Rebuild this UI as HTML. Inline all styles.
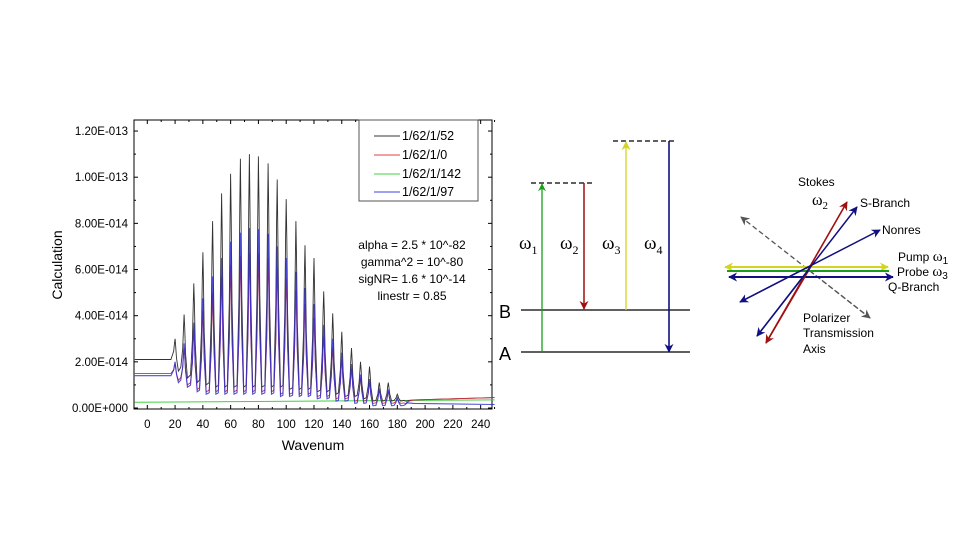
<!DOCTYPE html>
<html><head><meta charset="utf-8"><style>
body{margin:0;background:#fff;}
svg{display:block;font-family:"Liberation Sans",sans-serif;}
</style></head><body>
<svg id="s" width="960" height="540" viewBox="0 0 960 540">
<defs>
<marker id="mg" viewBox="0 0 10 10" refX="9" refY="5" markerWidth="8" markerHeight="8" markerUnits="userSpaceOnUse" orient="auto"><path d="M0,0L10,5L0,10L3,5z" fill="#1a9e1a"/></marker>
<marker id="mr" viewBox="0 0 10 10" refX="9" refY="5" markerWidth="9" markerHeight="9" markerUnits="userSpaceOnUse" orient="auto"><path d="M0,0L10,5L0,10L3,5z" fill="#a01010"/></marker>
<marker id="my" viewBox="0 0 10 10" refX="9" refY="5" markerWidth="9" markerHeight="9" markerUnits="userSpaceOnUse" orient="auto"><path d="M0,0L10,5L0,10L3,5z" fill="#d4d420"/></marker>
<marker id="mb" viewBox="0 0 10 10" refX="9" refY="5" markerWidth="9" markerHeight="9" markerUnits="userSpaceOnUse" orient="auto"><path d="M0,0L10,5L0,10L3,5z" fill="#101080"/></marker>
<marker id="mk" viewBox="0 0 10 10" refX="9" refY="5" markerWidth="9" markerHeight="9" markerUnits="userSpaceOnUse" orient="auto"><path d="M0,0L10,5L0,10L3,5z" fill="#555"/></marker>
</defs>
<g id="chart">
<rect x="134" y="120" width="358" height="289" fill="none" stroke="#000" stroke-width="1"/>
<g id="ticks"></g>
<g id="series"></g>
<text x="62" y="265" font-size="14" text-anchor="middle" transform="rotate(-90 62 265)">Calculation</text>
<text x="313" y="450" font-size="14" text-anchor="middle">Wavenum</text>
<g>
<rect x="359" y="120" width="119" height="81" fill="#fff" stroke="#555"/>
<line x1="374" y1="136" x2="400" y2="136" stroke="#333"/>
<text x="402" y="140" font-size="12.5">1/62/1/52</text>
<line x1="374" y1="155" x2="400" y2="155" stroke="#e04040"/>
<text x="402" y="159" font-size="12.5">1/62/1/0</text>
<line x1="374" y1="174" x2="400" y2="174" stroke="#40d040"/>
<text x="402" y="178" font-size="12.5">1/62/1/142</text>
<line x1="374" y1="192" x2="400" y2="192" stroke="#4040e0"/>
<text x="402" y="196" font-size="12.5">1/62/1/97</text>
</g>
<g font-size="12" text-anchor="middle">
<text x="412" y="249">alpha = 2.5 * 10^-82</text>
<text x="412" y="266">gamma^2 = 10^-80</text>
<text x="412" y="283">sigNR= 1.6 * 10^-14</text>
<text x="412" y="300">linestr = 0.85</text>
</g>
</g>

<g>
<line x1="521" y1="310" x2="690" y2="310" stroke="#000" stroke-width="1.3"/>
<line x1="521" y1="352" x2="690" y2="352" stroke="#000" stroke-width="1.3"/>
<text x="499" y="318" font-size="18">B</text>
<text x="499" y="360" font-size="18">A</text>
<line x1="531" y1="183" x2="595" y2="183" stroke="#000" stroke-width="1.3" stroke-dasharray="5,3"/>
<line x1="613" y1="141" x2="677" y2="141" stroke="#000" stroke-width="1.3" stroke-dasharray="5,3"/>
<line x1="542" y1="352" x2="542" y2="184" stroke="#1a9e1a" stroke-width="1.3" marker-end="url(#mg)"/>
<line x1="584" y1="183" x2="584" y2="309" stroke="#a01010" stroke-width="1.5" marker-end="url(#mr)"/>
<line x1="626" y1="310" x2="626" y2="142" stroke="#d4d420" stroke-width="1.3" marker-end="url(#my)"/>
<line x1="669" y1="141" x2="669" y2="352" stroke="#101080" stroke-width="1.6" marker-end="url(#mb)"/>
<g font-family="Liberation Serif,serif" font-size="19">
<text x="519" y="249">ω<tspan font-size="12" dy="5">1</tspan></text>
<text x="560" y="249">ω<tspan font-size="12" dy="5">2</tspan></text>
<text x="602" y="249">ω<tspan font-size="12" dy="5">3</tspan></text>
<text x="644" y="249">ω<tspan font-size="12" dy="5">4</tspan></text>
</g>
</g>

<g>
<line x1="870" y1="318" x2="741" y2="217" stroke="#555" stroke-width="1.3" stroke-dasharray="5,3" marker-end="url(#mk)"/>
<line x1="810" y1="271" x2="870" y2="318" stroke="#555" stroke-width="1.3" stroke-dasharray="5,3" marker-end="url(#mk)"/>
<line x1="888" y1="267" x2="725" y2="267" stroke="#d4d420" stroke-width="2" marker-end="url(#my)"/>
<line x1="725" y1="267" x2="888" y2="267" stroke="#d4d420" stroke-width="2" marker-end="url(#my)"/>
<line x1="727" y1="271" x2="889" y2="271" stroke="#1a9e1a" stroke-width="2"/>
<line x1="893" y1="277" x2="729" y2="277" stroke="#101080" stroke-width="2" marker-end="url(#mb)"/>
<line x1="729" y1="277" x2="893" y2="277" stroke="#101080" stroke-width="2" marker-end="url(#mb)"/>
<line x1="766" y1="343" x2="847" y2="202" stroke="#a01010" stroke-width="1.6" marker-end="url(#mr)"/>
<line x1="810" y1="268" x2="766" y2="343" stroke="#a01010" stroke-width="1.6" marker-end="url(#mr)"/>
<line x1="757" y1="336" x2="857" y2="207" stroke="#101080" stroke-width="1.5" marker-end="url(#mb)"/>
<line x1="810" y1="268" x2="757" y2="336" stroke="#101080" stroke-width="1.5" marker-end="url(#mb)"/>
<line x1="740" y1="302" x2="880" y2="230" stroke="#101080" stroke-width="1.5" marker-end="url(#mb)"/>
<line x1="810" y1="266" x2="740" y2="302" stroke="#101080" stroke-width="1.5" marker-end="url(#mb)"/>
<g font-size="12">
<text x="798" y="186">Stokes</text>
<text x="812" y="205" font-family="Liberation Serif,serif" font-size="16">ω<tspan font-size="11" dy="4">2</tspan></text>
<text x="860" y="207">S-Branch</text>
<text x="882" y="234">Nonres</text>
<text x="898" y="261">Pump <tspan font-family="Liberation Serif,serif" font-size="15">ω</tspan><tspan font-size="10" dy="3">1</tspan></text>
<text x="897" y="276">Probe <tspan font-family="Liberation Serif,serif" font-size="15">ω</tspan><tspan font-size="10" dy="3">3</tspan></text>
<text x="888" y="291">Q-Branch</text>
<text x="803" y="322">Polarizer</text>
<text x="803" y="337">Transmission</text>
<text x="803" y="353">Axis</text>
</g>
</g>
</svg>
<script>
const xTicks=[0,20,40,60,80,100,120,140,160,180,200,220,240];
const yTicks=[0,2,4,6,8,10,12];
const yTickLabels=["0.00E+000","2.00E-014","4.00E-014","6.00E-014","8.00E-014","1.00E-013","1.20E-013"];
const peakX=[20,26.5,33.5,40,47,53.5,60,67,73.5,80,87,93.5,100,107,113.5,120,127,133.5,140,147,153.5,160,167,173.5,180,187];
const blackPeaks=[3.0,4.05,5.4,6.75,8.1,9.3,10.15,10.8,11.0,10.9,10.6,9.9,9.05,8.1,7.05,6.5,5.05,4.1,3.3,2.6,2.0,1.8,1.1,1.1,0.6,0.3];
const redPeaks=[1.9,2.6,3.4,4.2,5.0,5.7,6.2,6.6,6.7,6.7,6.5,6.1,5.6,5.1,4.5,3.9,3.1,2.6,2.1,1.7,1.3,1.1,0.75,0.7,0.4,0.2];
const bluePeaks=[2.0,2.8,3.7,4.75,5.7,6.5,7.2,7.6,7.8,7.75,7.55,7.0,6.5,5.9,5.2,4.5,3.6,3.0,2.4,1.9,1.45,1.25,0.85,0.8,0.45,0.25];
const blackTroughs=[1.6,1.3,1.1,1.0,0.9,0.9,0.9,0.9,0.9,0.9,0.9,0.9,0.8,0.8,0.8,0.7,0.7,0.6,0.5,0.5,0.4,0.3,0.3,0.3,0.3];
const redTroughs=[1.2,1.0,0.8,0.7,0.7,0.7,0.7,0.7,0.7,0.7,0.7,0.6,0.6,0.6,0.6,0.5,0.5,0.4,0.4,0.3,0.3,0.2,0.2,0.2,0.2];
const blueTroughs=[1.1,0.9,0.7,0.6,0.6,0.6,0.6,0.6,0.6,0.6,0.6,0.5,0.5,0.5,0.5,0.4,0.4,0.3,0.3,0.2,0.2,0.1,0.1,0.1,0.1];
const blackBase=[2.1,2.1,0.35,0.45];
const redBase=[1.5,1.5,0.35,0.45];
const blueBase=[1.4,1.4,0.2,0.15];
const greenBase=[0.25,0.35];
const NS="http://www.w3.org/2000/svg";
const X=v=>147.3+(v)*1.389;
const Y=v=>408-v*23.08;
const tk=document.getElementById('ticks'), sr=document.getElementById('series');
function mk(t,a,p){const e=document.createElementNS(NS,t);for(const k in a)e.setAttribute(k,a[k]);p.appendChild(e);return e;}
xTicks.forEach(v=>{
 [[409,405],[120,124]].forEach(([a,b])=>{
 const l=mk('line',{x1:X(v),x2:X(v),y1:a,y2:b,stroke:'#000'},tk);
 
 
 const m=mk('line',{x1:X(v+10),x2:X(v+10),y1:a,y2:a+(b-a)/2,stroke:'#000'},tk);
 
 
 });
 const t=mk('text',{x:X(v),y:428,'font-size':11.5,'text-anchor':'middle'},tk);t.textContent=v;
 
 
});
yTicks.forEach((v,i)=>{
 [[134,138],[492,488]].forEach(([a,b])=>{
 const l=mk('line',{x1:a,x2:b,y1:Y(v),y2:Y(v),stroke:'#000'},tk);
 
 
 if(v<12){const m=mk('line',{x1:a,x2:a+(b-a)/2,y1:Y(v+1),y2:Y(v+1),stroke:'#000'},tk);
 
 }
 });
 const t=mk('text',{x:128,y:Y(v)+4,'font-size':11.5,'text-anchor':'end'},tk);t.textContent=yTickLabels[i];
 
 
});
function build(base,peaks,troughs){
 const pts=[[-9,base[0]],[17,base[1]]];
 for(let i=0;i<peakX.length;i++){
  const lo=i>0?troughs[i-1]:base[1], hi=i<troughs.length?troughs[i]:base[2];
  pts.push([peakX[i]-1.0,lo+(peaks[i]-lo)*0.4]);
  pts.push([peakX[i]-0.4,lo+(peaks[i]-lo)*0.8]);
  pts.push([peakX[i],peaks[i]]);
  pts.push([peakX[i]+0.4,hi+(peaks[i]-hi)*0.8]);
  pts.push([peakX[i]+1.0,hi+(peaks[i]-hi)*0.4]);
  if(i<troughs.length){pts.push([peakX[i]+2.4,troughs[i]]);pts.push([peakX[i+1]-2.4,troughs[i]*1.1]);}
 }
 pts.push([192,base[2]]);pts.push([250,base[3]]);
 return pts.map(p=>X(p[0]).toFixed(1)+','+Y(p[1]).toFixed(1)).join(' ');
}
const g=mk('polyline',{points:X(-9)+','+Y(greenBase[0])+' '+X(250)+','+Y(greenBase[1]),fill:'none',stroke:'#40d040','stroke-width':1},sr);


const b=mk('polyline',{points:build(blackBase,blackPeaks,blackTroughs),fill:'none',stroke:'#333','stroke-width':0.9},sr);


const r=mk('polyline',{points:build(redBase,redPeaks,redTroughs),fill:'none',stroke:'#d03040','stroke-width':0.9},sr);


const bl=mk('polyline',{points:build(blueBase,bluePeaks,blueTroughs),fill:'none',stroke:'#3030d0','stroke-width':1.1,'stroke-opacity':0.85},sr);


</script>
</body></html>
